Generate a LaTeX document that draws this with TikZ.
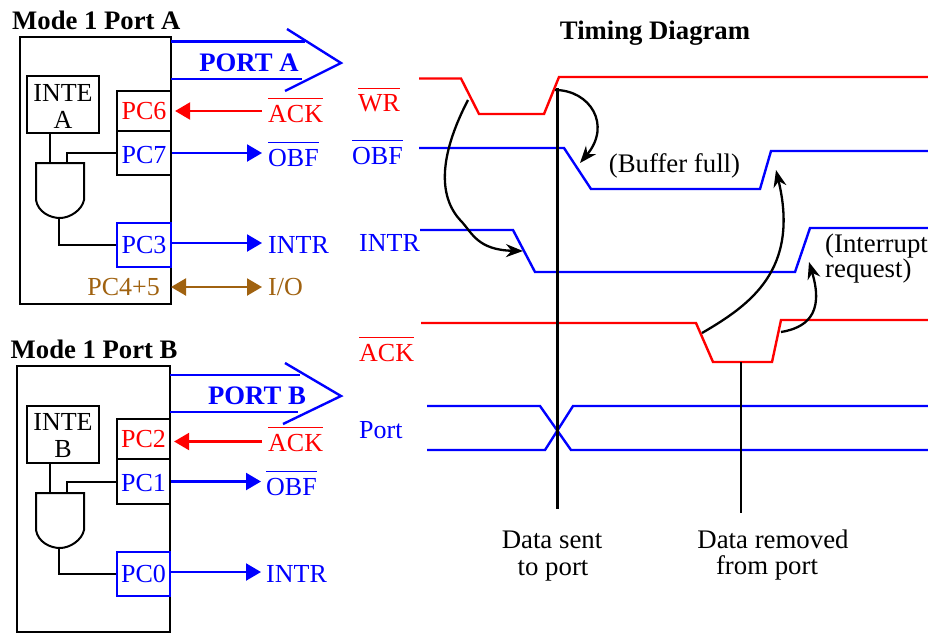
\documentclass[tikz,border=0pt]{standalone}
\usepackage{fontspec}
\setmainfont{Liberation Serif}
\usetikzlibrary{arrows.meta}
\definecolor{sigred}{RGB}{255,0,0}
\definecolor{sigblue}{RGB}{0,0,255}
\definecolor{iobrown}{RGB}{160,98,16}
\tikzset{
  txt/.style={font=\fontsize{26}{28}\selectfont, inner sep=0pt},
  notetxt/.style={font=\fontsize{26.8}{28}\selectfont, inner sep=0pt, anchor=base},
  titletxt/.style={font=\fontsize{26.7}{28}\selectfont\bfseries, inner sep=0pt},
  boxln/.style={draw, line width=2.2pt, inner sep=0pt, align=center, font=\fontsize{26}{27}\selectfont},
  wireln/.style={line width=2pt},
  sigln/.style={-{Triangle[length=15pt,width=17pt]}, line width=2.2pt},
  biln/.style={{Triangle[length=15pt,width=17pt]}-{Triangle[length=15pt,width=17pt]}, line width=2.2pt},
  busln/.style={line width=2.4pt},
  waveln/.style={line width=2.4pt, line join=miter},
  markln/.style={line width=2.2pt},
  causeln/.style={-{Stealth[length=17pt,width=13pt]}, line width=2.3pt},
}
% and gate, #1 = top middle
\newcommand{\andgate}[1]{%
  \draw[wireln] #1 ++(-24,0) -- ++(0,37)
    .. controls +(2,12) and +(-10,0) .. ++(24,18)
    .. controls +(10,0) and +(-2,10) .. ++(24,-18) -- ++(0,-37) -- cycle;
}
\newsavebox{\barbox}
\newcommand{\barred}[1]{\sbox{\barbox}{#1}\rlap{\smash{\raisebox{23pt}{\rule{\wd\barbox}{1.3pt}}}}\usebox{\barbox}}
\begin{document}
\begin{tikzpicture}[x=1pt,y=-1pt]
  \useasboundingbox (0,0) rectangle (928,633);
  % port a block
  \node[titletxt, anchor=west] (titlea) at (12,20.5) {Mode 1 Port A};
  \node[boxln, minimum width=151pt, minimum height=267pt] (blocka) at (95.5,170.5) {};
  \node[boxln, minimum width=72pt, minimum height=57pt] (intea) at (63,104.5) {\rule{0pt}{20pt}INTE\\A};
  \node[boxln, text=sigred, minimum width=54pt, minimum height=40pt] (pcsix) at (144,111) {PC6};
  \node[boxln, text=sigblue, minimum width=54pt, minimum height=44pt] (pcseven) at (144,153) {\rule{0pt}{21pt}PC7};
  \node[boxln, text=sigblue, draw=sigblue, minimum width=54pt, minimum height=44pt] (pcthree) at (144,245) {PC3};
  \node[txt, iobrown, anchor=east] (pcio) at (160,287) {PC4+5};
  \node[txt, sigred, anchor=west] (acka) at (268,114) {\barred{ACK}};
  \node[txt, sigblue, anchor=west] (obfa) at (268,158) {\barred{OBF}};
  \node[txt, sigblue, anchor=west] (intra) at (268,245) {INTR};
  \node[txt, iobrown, anchor=west] (ioa) at (268,287) {I/O};
  \coordinate (gatea) at (60,163);
  \coordinate (gatealeft) at (50,163);
  \coordinate (gateaout) at (59,218);
  \coordinate (ackaend) at (262,111);
  \coordinate (obfaend) at (262,153);
  \coordinate (intraend) at (262,243);
  \coordinate (ioaleft) at (171,287);
  \coordinate (ioaright) at (262,287);
  \andgate{(gatea)}
  \draw[wireln] (intea.south -| gatealeft) -- (gatealeft);
  \draw[wireln] (pcseven.west) -| (67,163);
  \draw[wireln] (gateaout) |- (pcthree.west);
  \draw[sigln, sigred, shorten >=3pt] (ackaend) -- (pcsix.east);
  \draw[sigln, sigblue] (pcseven.east) -- (obfaend);
  \draw[sigln, sigblue] (pcthree.east |- intraend) -- (intraend);
  \draw[biln, iobrown] (ioaleft) -- (ioaright);
  \draw[busln, sigblue] (171,41.5) -- (305,41.5);
  \draw[busln, sigblue] (171,79) -- (302,79);
  \draw[busln, sigblue] (287,29) -- (341,63) -- (285,91);
  \node[titletxt, sigblue] (porta) at (249,63) {PORT A};
  % port b block
  \node[titletxt, anchor=west] (titleb) at (10.5,349) {Mode 1 Port B};
  \node[boxln, minimum width=153pt, minimum height=266pt] (blockb) at (93.5,499) {};
  \node[boxln, minimum width=72pt, minimum height=57pt] (inteb) at (63,434.5) {\rule{0pt}{20pt}INTE\\B};
  \node[boxln, text=sigred, minimum width=53pt, minimum height=40pt] (pctwo) at (143.5,439) {PC2};
  \node[boxln, text=sigblue, minimum width=53pt, minimum height=45pt] (pcone) at (143.5,481.5) {\rule{0pt}{21pt}PC1};
  \node[boxln, text=sigblue, draw=sigblue, minimum width=53pt, minimum height=44pt] (pczero) at (143.5,574) {PC0};
  \node[txt, sigred, anchor=west] (ackb) at (268,443) {\barred{ACK}};
  \node[txt, sigblue, anchor=west] (obfb) at (266,487) {\barred{OBF}};
  \node[txt, sigblue, anchor=west] (intrb) at (266,574) {INTR};
  \coordinate (gateb) at (60,493);
  \coordinate (gatebleft) at (50,493);
  \coordinate (gatebout) at (59,548);
  \coordinate (ackbend) at (262,441.5);
  \coordinate (obfbend) at (261,481.5);
  \coordinate (intrbend) at (261,572);
  \andgate{(gateb)}
  \draw[wireln] (inteb.south -| gatebleft) -- (gatebleft);
  \draw[wireln] (pcone.west) -| (67,493);
  \draw[wireln] (gatebout) |- (pczero.west);
  \draw[sigln, sigred, shorten >=3pt] (ackbend) -- (pctwo.east |- ackbend);
  \draw[sigln, sigblue] (pcone.east) -- (obfbend);
  \draw[sigln, sigblue] (pczero.east |- intrbend) -- (intrbend);
  \draw[busln, sigblue] (170,375) -- (300,375);
  \draw[busln, sigblue] (170,412) -- (298,412);
  \draw[busln, sigblue] (285,363) -- (341,396) -- (283,424);
  \node[titletxt, sigblue] (portb) at (257,396) {PORT B};
  % timing
  \node[titletxt] (timing) at (655,33) {Timing Diagram};
  \node[txt, sigred, anchor=west] (wrlbl) at (358,103.5) {\barred{WR}};
  \node[txt, sigblue, anchor=west] (obflbl) at (352,156) {\barred{OBF}};
  \node[txt, sigblue, anchor=west] (intrlbl) at (359,243) {INTR};
  \node[txt, sigred, anchor=west] (acklbl) at (359,353) {\barred{ACK}};
  \node[txt, sigblue, anchor=west] (portlbl) at (359,430) {Port};
  \draw[waveln, sigred] (419,78.5) -- (461,78.5) -- (479,114) -- (544,114) -- (559,77) -- (928,77);
  \draw[waveln, sigblue] (419,148) -- (564,148) -- (591,189) -- (760,189) -- (771,151) -- (928,151);
  \draw[waveln, sigblue] (420,230) -- (513,230) -- (535,272) -- (795,272) -- (810,228) -- (928,228);
  \draw[waveln, sigred] (421,323) -- (696,323) -- (713,362) -- (772,362) -- (781,320) -- (928,320);
  \draw[waveln, sigblue] (427,406) -- (540,406) -- (571,450) -- (928,450);
  \draw[waveln, sigblue] (427,450) -- (545,450) -- (573,406) -- (928,406);
  \coordinate (wrdown) at (468,100);
  \coordinate (wrup) at (555,90);
  \coordinate (obfdown) at (580,163);
  \coordinate (intrdown) at (523,251);
  \coordinate (obfup) at (776,170);
  \coordinate (intrup) at (809,262);
  \coordinate (ackdown) at (702,333);
  \coordinate (ackup) at (781,332);
  \draw[markln] (557.5,88) -- (557.5,509);
  \draw[markln] (741,362) -- (741,513);
  \draw[causeln] (wrdown) .. controls (442,150) and (435,195) .. (462,222)
    .. controls (472,233) and (478,250) .. (intrdown);
  \draw[causeln] (wrup) .. controls (590,90) and (612,125) .. (obfdown);
  \draw[causeln] (ackdown) .. controls (750,305) and (800,270) .. (obfup);
  \draw[causeln] (ackup) .. controls (805,328) and (825,315) .. (intrup);
  \node[notetxt] (fulltxt) at (674.5,172) {(Buffer full)};
  \node[notetxt, anchor=base west] (reqone) at (825,252) {(Interrupt};
  \node[notetxt, anchor=base west] (reqtwo) at (825,277) {request)};
  \node[notetxt] (senttxt) at (552,548) {Data sent};
  \node[notetxt] (sentlbl) at (553,575) {to port};
  \node[notetxt] (remtxt) at (773,548) {Data removed};
  \node[notetxt] (remlbl) at (767,574) {from port};
\end{tikzpicture}
\end{document}
